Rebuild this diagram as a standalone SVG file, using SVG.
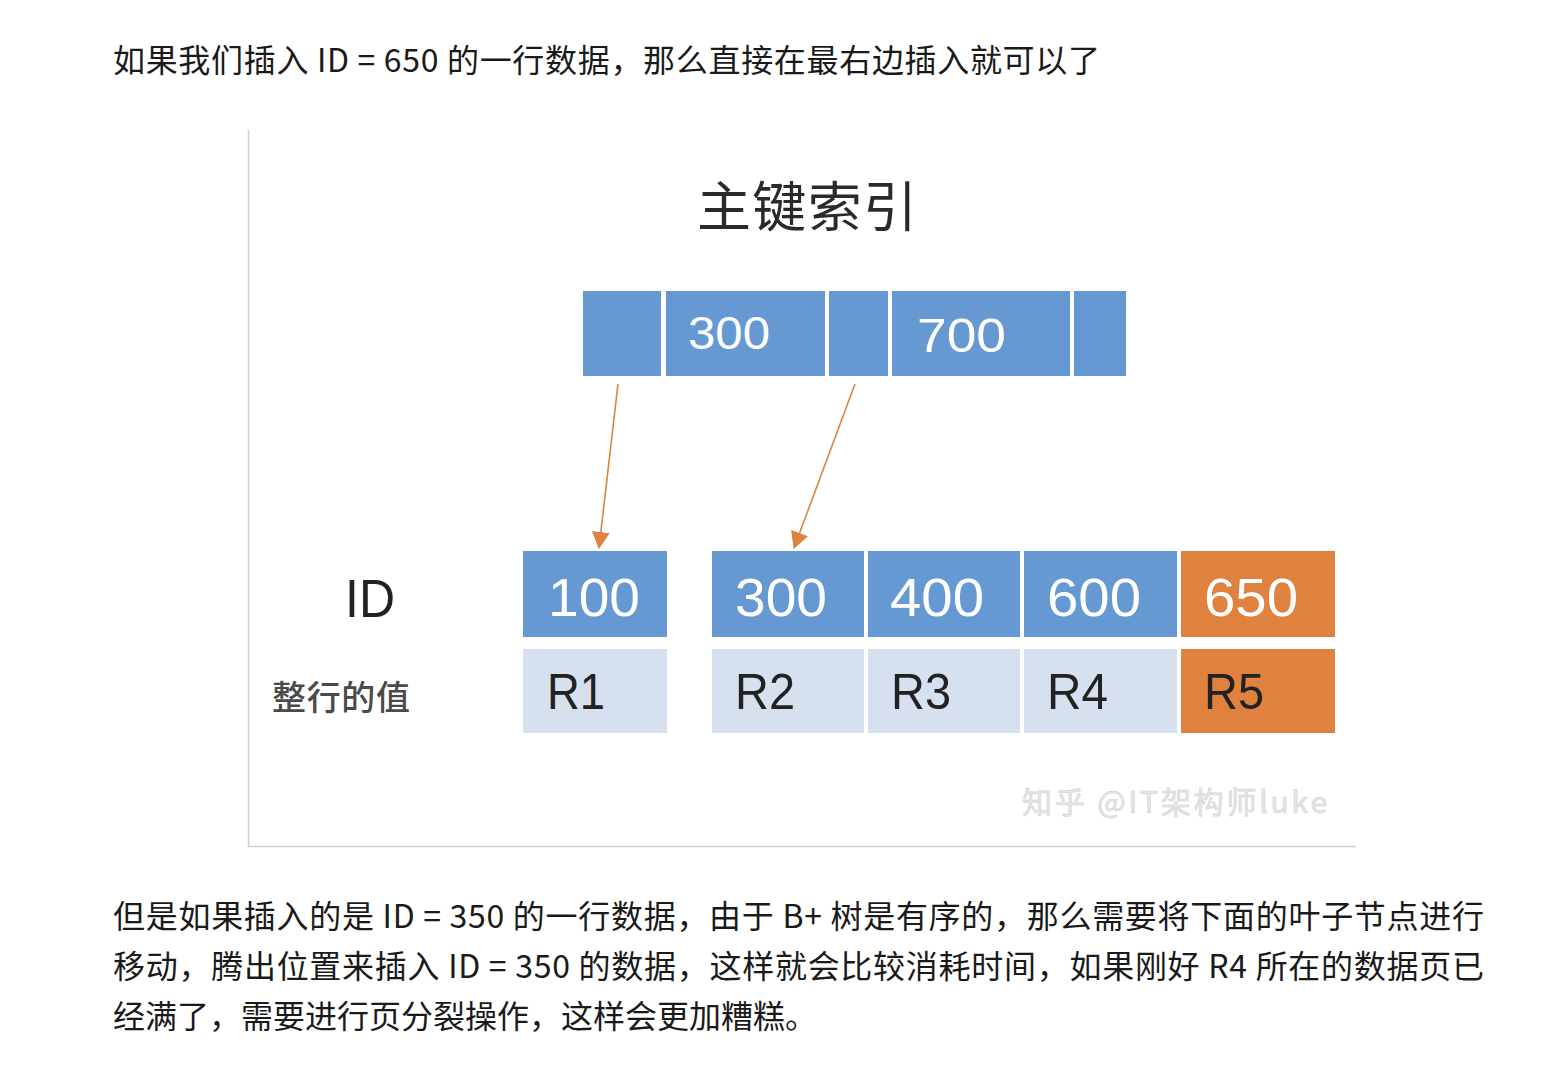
<svg xmlns="http://www.w3.org/2000/svg" width="1548" height="1088" viewBox="0 0 1548 1088">
<defs>
<style>
.para{font-family:"Noto Sans CJK SC","Liberation Sans",sans-serif;font-size:32px;fill:#1a1a1a;}
.blue{fill:#6699d1;}
.orange{fill:#e0823f;}
.pale{fill:#d6e0ee;}
.num{font-family:"Liberation Sans","Noto Sans CJK SC",sans-serif;fill:#ffffff;}
.rv{font-family:"Liberation Sans","Noto Sans CJK SC",sans-serif;font-size:50px;fill:#222222;}
.conn{stroke:#d9843f;stroke-width:1.6;fill:none;}
</style>
<marker id="ah" markerWidth="18" markerHeight="18" viewBox="0 0 18 18" refX="16" refY="9" orient="auto" markerUnits="userSpaceOnUse">
<path d="M0,0 L17,9 L0,18 Z" fill="#e0823f"/>
</marker>
</defs>
<rect x="0" y="0" width="1548" height="1088" fill="#ffffff"/>

<text class="para" x="113" y="72" textLength="987" lengthAdjust="spacing">如果我们插入 ID = 650 的一行数据，那么直接在最右边插入就可以了</text>

<g id="frame">
<line x1="248.5" y1="130" x2="248.5" y2="846" stroke="#cfcfcf" stroke-width="1.5"/>
<line x1="248" y1="846.5" x2="1356" y2="846.5" stroke="#cfcfcf" stroke-width="1.5"/>
</g>

<g id="title">
<text x="697" y="227" font-family="Noto Sans CJK SC,sans-serif" font-size="54" fill="#2a2a2a" textLength="220" lengthAdjust="spacing">主键索引</text>
</g>

<g id="root-node">
<rect class="blue" x="583" y="291" width="78" height="85"/>
<rect class="blue" x="666" y="291" width="159" height="85"/>
<rect class="blue" x="829" y="291" width="59" height="85"/>
<rect class="blue" x="892" y="291" width="178" height="85"/>
<rect class="blue" x="1074" y="291" width="52" height="85"/>
<text class="num" x="688" y="349" font-size="46" textLength="82" lengthAdjust="spacingAndGlyphs">300</text>
<text class="num" x="917" y="352" font-size="48" textLength="89" lengthAdjust="spacingAndGlyphs">700</text>
</g>

<g id="connectors">
<line class="conn" x1="618" y1="384" x2="599" y2="548" marker-end="url(#ah)"/>
<line class="conn" x1="855" y1="384" x2="794" y2="548" marker-end="url(#ah)"/>
</g>

<g id="row-labels">
<text x="345" y="617" font-family="Liberation Sans,sans-serif" font-size="54" fill="#222222" textLength="50" lengthAdjust="spacingAndGlyphs">ID</text>
<text x="272" y="710" font-family="Noto Sans CJK SC,sans-serif" font-size="34" font-weight="500" fill="#4a4a4a" textLength="138" lengthAdjust="spacing">整行的值</text>
</g>

<g id="leaf-1">
<rect class="blue" x="523" y="551" width="144" height="86"/>
<rect class="pale" x="523" y="649" width="144" height="84"/>
<text class="num" x="548" y="616" font-size="54" textLength="92" lengthAdjust="spacingAndGlyphs">100</text>
<text class="rv" x="547" y="709" textLength="58" lengthAdjust="spacingAndGlyphs">R1</text>
</g>

<g id="leaf-2">
<rect class="blue" x="712" y="551" width="152" height="86"/>
<rect class="pale" x="712" y="649" width="152" height="84"/>
<text class="num" x="735" y="616" font-size="54" textLength="92" lengthAdjust="spacingAndGlyphs">300</text>
<text class="rv" x="735" y="709" textLength="60" lengthAdjust="spacingAndGlyphs">R2</text>

<rect class="blue" x="868" y="551" width="152" height="86"/>
<rect class="pale" x="868" y="649" width="152" height="84"/>
<text class="num" x="890" y="616" font-size="54" textLength="94" lengthAdjust="spacingAndGlyphs">400</text>
<text class="rv" x="891" y="709" textLength="60" lengthAdjust="spacingAndGlyphs">R3</text>

<rect class="blue" x="1024" y="551" width="153" height="86"/>
<rect class="pale" x="1024" y="649" width="153" height="84"/>
<text class="num" x="1047" y="616" font-size="54" textLength="94" lengthAdjust="spacingAndGlyphs">600</text>
<text class="rv" x="1047" y="709" textLength="61" lengthAdjust="spacingAndGlyphs">R4</text>

<rect class="orange" x="1181" y="551" width="154" height="86"/>
<rect class="orange" x="1181" y="649" width="154" height="84"/>
<text class="num" x="1204" y="616" font-size="54" textLength="94" lengthAdjust="spacingAndGlyphs">650</text>
<text class="rv" x="1204" y="709" textLength="60" lengthAdjust="spacingAndGlyphs">R5</text>
</g>

<g id="watermark">
<text x="1022" y="813" font-family="Noto Sans CJK SC,sans-serif" font-size="30" fill="#e6e6e6" stroke="#d2d2d2" stroke-width="0.6" textLength="305" lengthAdjust="spacing">知乎 @IT架构师luke</text>
</g>

<text class="para" x="113" y="928" textLength="1371" lengthAdjust="spacing">但是如果插入的是 ID = 350 的一行数据，由于 B+ 树是有序的，那么需要将下面的叶子节点进行</text>
<text class="para" x="113" y="978" textLength="1371" lengthAdjust="spacing">移动，腾出位置来插入 ID = 350 的数据，这样就会比较消耗时间，如果刚好 R4 所在的数据页已</text>
<text class="para" x="113" y="1028">经满了，需要进行页分裂操作，这样会更加糟糕。</text>
</svg>
